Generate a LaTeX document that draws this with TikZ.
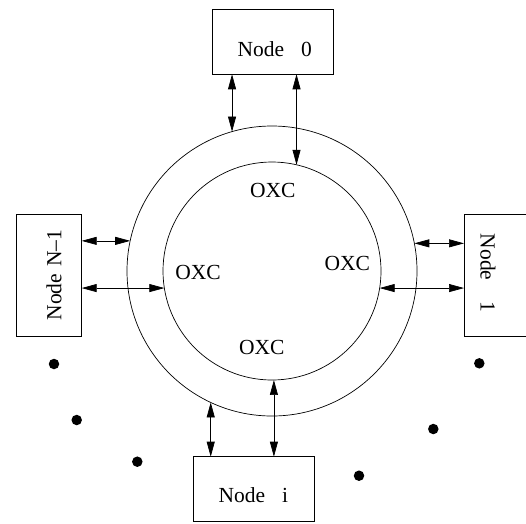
\documentclass[tikz,border=0pt]{standalone}
\usepackage{fontspec}
\setmainfont{Liberation Serif}
\usetikzlibrary{arrows.meta}
\begin{document}
\begin{tikzpicture}[x=1pt,y=-1pt,
  box/.style={draw, line width=0.8pt, inner sep=0pt, outer sep=0pt},
  ring/.style={draw, circle, line width=0.7pt, inner sep=0pt, outer sep=0pt},
  lbl/.style={font=\fontsize{21.5}{25}\selectfont, inner sep=0pt},
  link/.style={{Triangle[length=15pt,width=8pt]}-{Triangle[length=15pt,width=8pt]}, line width=0.7pt},
  dot/.style={circle, fill, inner sep=0pt, minimum size=10.5pt}]
\useasboundingbox (0,0) rectangle (526,523);
% rings
\node[ring, minimum size=290pt] (outer) at (272,271) {};
\node[ring, minimum size=218pt] (inner) at (272,271) {};
% node boxes
\node[box, minimum width=120.6pt, minimum height=65pt] (n0) at (273,41.8) {};
\node[box, minimum width=65pt, minimum height=121.7pt] (nN) at (49.2,275.2) {};
\node[box, minimum width=66pt, minimum height=121.7pt] (n1) at (497,275.2) {};
\node[box, minimum width=121.3pt, minimum height=65pt] (ni) at (253.7,489.2) {};
% box labels
\node[lbl] (t0) at (274.7,49.5) {Node\hspace{17pt}0};
\node[lbl] (ti) at (253.3,495) {Node\hspace{17pt}i};
\node[lbl, rotate=90] (tN) at (54,275) {Node\hspace{7pt}N\textendash1};
\node[lbl, rotate=-90] (t1) at (488,273) {Node\hspace{21pt}1};
% OXC labels
\node[lbl] (oxT) at (272.7,190) {OXC};
\node[lbl] (oxL) at (198,272.7) {OXC};
\node[lbl] (oxR) at (347.3,263.3) {OXC};
\node[lbl] (oxB) at (261.7,347.3) {OXC};
% connectors
\draw[link] (n0.south -| outer.106.84) -- (outer.106.84);
\draw[link] (n0.south -| inner.77.44) -- (inner.77.44);
\draw[link] (nN.east |- outer.168.75) -- (outer.168.75);
\draw[link] (nN.east |- inner.189.67) -- (inner.189.67);
\draw[link] (n1.west |- outer.11.25) -- (outer.11.25);
\draw[link] (n1.west |- inner.-9.5) -- (inner.-9.5);
\draw[link] (ni.north -| outer.245) -- (outer.245);
\draw[link] (ni.north -| inner.271.9) -- (inner.271.9);
% dots
\node[dot] (d1) at (54,364) {};
\node[dot] (d2) at (76.7,420) {};
\node[dot] (d3) at (137.3,461.7) {};
\node[dot] (d4) at (359,475.7) {};
\node[dot] (d5) at (433.3,429) {};
\node[dot] (d6) at (479.3,363.3) {};
\end{tikzpicture}
\end{document}
